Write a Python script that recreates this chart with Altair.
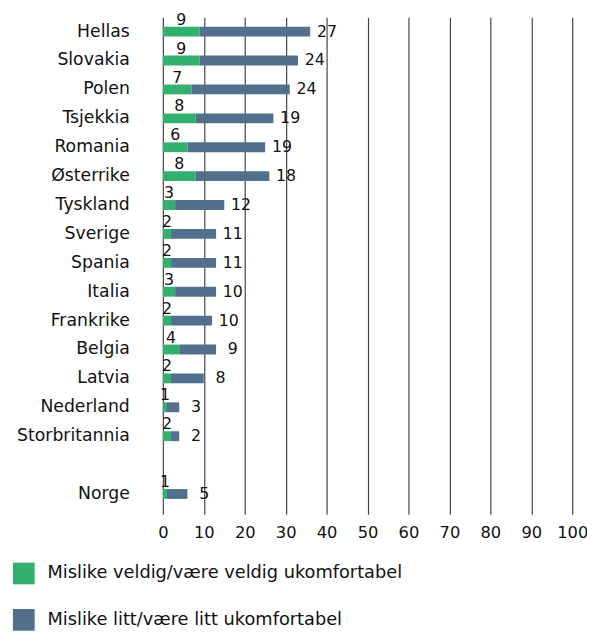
import altair as alt
import pandas as pd

countries = ["Hellas", "Slovakia", "Polen", "Tsjekkia", "Romania", "Østerrike",
             "Tyskland", "Sverige", "Spania", "Italia", "Frankrike", "Belgia",
             "Latvia", "Nederland", "Storbritannia", "Norge"]
very = [9, 9, 7, 8, 6, 8, 3, 2, 2, 3, 2, 4, 2, 1, 2, 1]
somewhat = [27, 24, 24, 19, 19, 18, 12, 11, 11, 10, 10, 9, 8, 3, 2, 5]
gap_label = " "
y_domain = countries[:15] + [gap_label] + countries[15:]
x_ticks = list(range(0, 101, 10))

series_very = "Mislike veldig/være veldig ukomfortabel"
series_some = "Mislike litt/være litt ukomfortabel"
green = "#33AF6E"
blue = "#526F8E"
FONT = "DejaVu Sans"
WEIGHT = "normal"
TXT = "#111"

df = pd.DataFrame({"land": countries, "veldig": very, "litt": somewhat})

yenc = alt.Y(
    "land:N",
    scale=alt.Scale(domain=y_domain),
    axis=alt.Axis(title=None, ticks=False, domain=False, labelFontSize=17.5,
                  labelFont=FONT, labelFontWeight=WEIGHT, labelColor=TXT,
                  labelPadding=34),
)
xscale = alt.Scale(domain=[0, 100], nice=False)

bars = alt.Chart(df).transform_fold(
    ["veldig", "litt"], as_=["key", "value"]
).transform_calculate(
    serie=f"datum.key == 'veldig' ? '{series_very}' : '{series_some}'",
    start="datum.key == 'veldig' ? 0 : datum.veldig",
    end="datum.key == 'veldig' ? datum.veldig : datum.veldig + datum.litt",
).mark_bar(size=10).encode(
    x=alt.X("start:Q", scale=xscale,
            axis=alt.Axis(title=None, values=x_ticks, grid=True, gridColor="#444",
                          gridWidth=1.2, gridOpacity=1, domain=False, tickSize=6,
                          tickColor="#444", tickWidth=1.2, labelFontSize=16.5,
                          labelFont=FONT, labelFontWeight=WEIGHT, labelColor=TXT,
                          labelPadding=10, labelFlush=False)),
    x2="end:Q",
    y=yenc,
    color=alt.Color(
        "serie:N",
        scale=alt.Scale(domain=[series_very, series_some], range=[green, blue]),
        legend=alt.Legend(title=None, orient="none", legendX=-152, legendY=553,
                          direction="vertical", symbolType="square", symbolSize=484,
                          symbolStrokeWidth=0, labelFontSize=18, labelFont=FONT,
                          labelFontWeight=WEIGHT, labelColor=TXT, rowPadding=25,
                          labelOffset=13, padding=0, labelLimit=500),
    ),
)

very_labels = alt.Chart(df).transform_calculate(
    mid="datum.veldig / 2"
).mark_text(dy=-12, align="center", fontSize=16, font=FONT, fontWeight=WEIGHT,
            color=TXT).encode(
    x=alt.X("mid:Q", scale=xscale),
    y=alt.Y("land:N", scale=alt.Scale(domain=y_domain)),
    text="veldig:Q",
)

some_labels = alt.Chart(df).transform_calculate(
    total="datum.veldig + datum.litt"
).mark_text(dx=17, align="center", fontSize=16, font=FONT, fontWeight=WEIGHT,
            color=TXT).encode(
    x=alt.X("total:Q", scale=xscale),
    y=alt.Y("land:N", scale=alt.Scale(domain=y_domain)),
    text="litt:Q",
)

chart = alt.layer(bars, very_labels, some_labels).properties(
    width=415, height=498,
    autosize=alt.AutoSizeParams(type="none"),
    padding={"left": 157, "top": 5, "right": 15, "bottom": 124},
).configure_view(stroke=None)

chart.save("out.html", embed_options={"renderer": "svg", "actions": False})
